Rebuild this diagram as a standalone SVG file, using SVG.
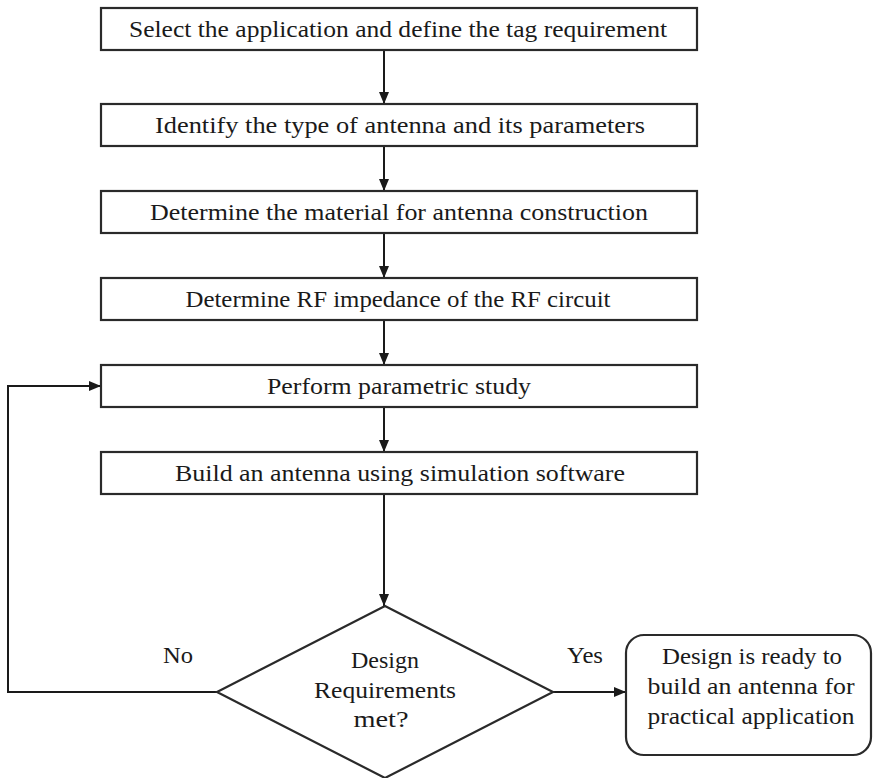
<svg xmlns="http://www.w3.org/2000/svg" width="873" height="778" viewBox="0 0 873 778">
  <defs>
    <marker id="arrow" viewBox="0 0 12 10" refX="12" refY="5" markerWidth="12" markerHeight="10" markerUnits="userSpaceOnUse" orient="auto">
      <path d="M0,0 L12,5 L0,10 z" fill="#1a1a1a"/>
    </marker>
    <style>
      .box { fill: #ffffff; stroke: #2a2a2a; stroke-width: 2.2; }
      .lbl { font-family: "Liberation Serif", "Times New Roman", serif; font-size: 24px; fill: #1a1a1a; text-anchor: middle; }
      .conn { fill: none; stroke: #1a1a1a; stroke-width: 2; marker-end: url(#arrow); }
    </style>
  </defs>
  <rect width="873" height="778" fill="#ffffff"/>

  <g id="connectors">
    <line class="conn" x1="384" y1="50" x2="384" y2="104"/>
    <line class="conn" x1="384" y1="146" x2="384" y2="191"/>
    <line class="conn" x1="384" y1="233" x2="384" y2="278"/>
    <line class="conn" x1="384" y1="320" x2="384" y2="365"/>
    <line class="conn" x1="384" y1="407" x2="384" y2="452"/>
    <line class="conn" x1="384" y1="494" x2="384" y2="606"/>
    <polyline class="conn" points="217,692 8,692 8,386 101,386"/>
    <line class="conn" x1="553" y1="692" x2="626" y2="692"/>
    <text class="lbl" x="178" y="663" textLength="30" lengthAdjust="spacingAndGlyphs">No</text>
    <text class="lbl" x="585" y="663" textLength="36" lengthAdjust="spacingAndGlyphs">Yes</text>
  </g>

  <g id="n1">
    <rect class="box" x="101" y="8" width="596" height="42"/>
    <text class="lbl" x="398" y="37" textLength="538" lengthAdjust="spacingAndGlyphs">Select the application and define the tag requirement</text>
  </g>
  <g id="n2">
    <rect class="box" x="101" y="104" width="596" height="42"/>
    <text class="lbl" x="400" y="133" textLength="490" lengthAdjust="spacingAndGlyphs">Identify the type of antenna and its parameters</text>
  </g>
  <g id="n3">
    <rect class="box" x="101" y="191" width="596" height="42"/>
    <text class="lbl" x="399" y="220" textLength="498" lengthAdjust="spacingAndGlyphs">Determine the material for antenna construction</text>
  </g>
  <g id="n4">
    <rect class="box" x="101" y="278" width="596" height="42"/>
    <text class="lbl" x="398" y="307" textLength="425" lengthAdjust="spacingAndGlyphs">Determine RF impedance of the RF circuit</text>
  </g>
  <g id="n5">
    <rect class="box" x="101" y="365" width="596" height="42"/>
    <text class="lbl" x="399" y="394" textLength="264" lengthAdjust="spacingAndGlyphs">Perform parametric study</text>
  </g>
  <g id="n6">
    <rect class="box" x="101" y="452" width="596" height="42"/>
    <text class="lbl" x="400" y="481" textLength="450" lengthAdjust="spacingAndGlyphs">Build an antenna using simulation software</text>
  </g>
  <g id="decision">
    <polygon class="box" points="385,606 553,692 385,778 217,692"/>
    <text class="lbl" x="385" y="668" textLength="68" lengthAdjust="spacingAndGlyphs">Design</text>
    <text class="lbl" x="385" y="698" textLength="142" lengthAdjust="spacingAndGlyphs">Requirements</text>
    <text class="lbl" x="381" y="727" textLength="55" lengthAdjust="spacingAndGlyphs">met?</text>
  </g>
  <g id="result">
    <rect class="box" x="626" y="635" width="245" height="120" rx="18" ry="18"/>
    <text class="lbl" x="752" y="664" textLength="180" lengthAdjust="spacingAndGlyphs">Design is ready to</text>
    <text class="lbl" x="751" y="694" textLength="207" lengthAdjust="spacingAndGlyphs">build an antenna  for</text>
    <text class="lbl" x="751" y="724" textLength="207" lengthAdjust="spacingAndGlyphs">practical application</text>
  </g>
</svg>
